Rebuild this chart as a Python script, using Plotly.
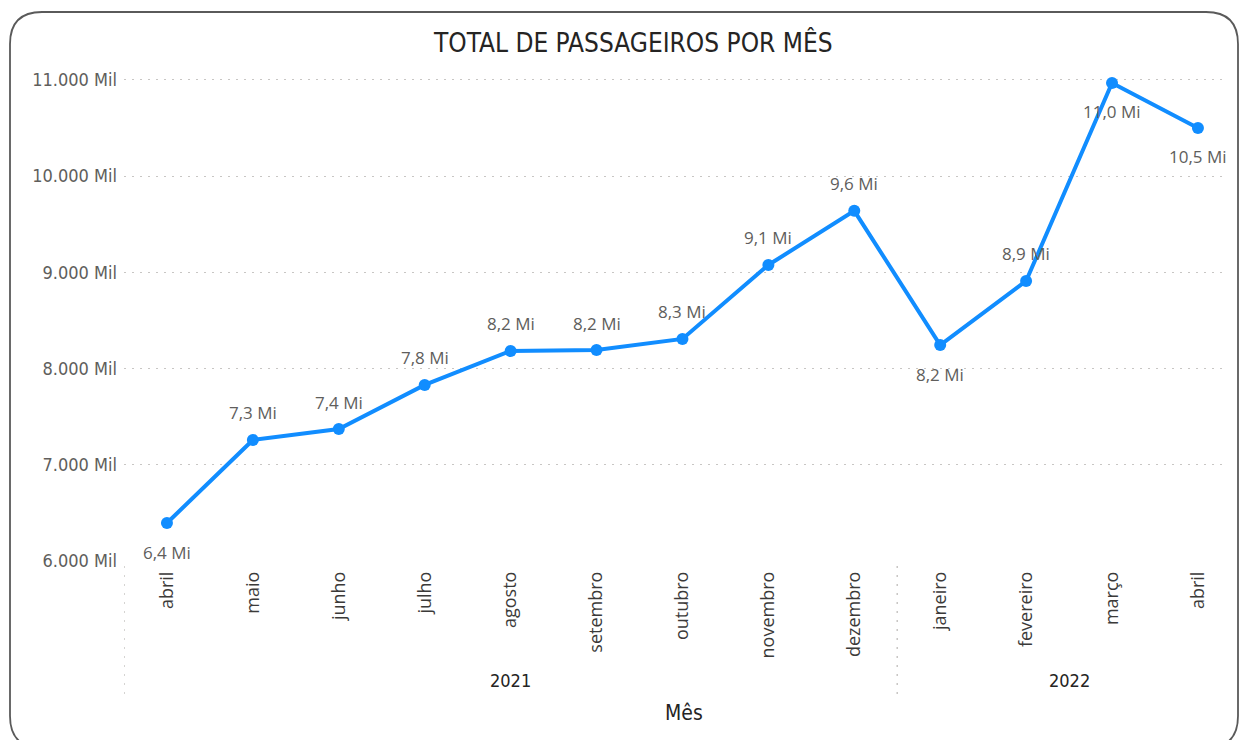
import plotly.graph_objects as go

# ---- data ----
months = ["abril", "maio", "junho", "julho", "agosto", "setembro", "outubro",
          "novembro", "dezembro", "janeiro", "fevereiro", "março", "abril"]
years = ["2021"] * 9 + ["2022"] * 4
passageiros_mil = [6395, 7258, 7372, 7830, 8183, 8193, 8308, 9077, 9640,
                   8245, 8911, 10969, 10501]
label_below = [True, False, False, False, False, False, False, False, False,
               True, False, True, True]
y_ticks = [6000, 7000, 8000, 9000, 10000, 11000]
y_tick_text = [f"{v:,}".replace(",", ".") + " Mil" for v in y_ticks]

W, H = 1242, 740
def px(x):
    return x / W
def py(y):
    return 1 - y / H

idx = list(range(len(months)))
COND = "DejaVu Sans Condensed, Liberation Sans Narrow, sans-serif"

fig = go.Figure()
fig.add_trace(go.Scatter(
    x=idx, y=passageiros_mil, mode="lines+markers",
    line=dict(color="#118DFF", width=4),
    marker=dict(color="#118DFF", size=12),
    hoverinfo="skip", showlegend=False,
))

annotations = []
for i, (v, below) in enumerate(zip(passageiros_mil, label_below)):
    txt = f"{v/1000:.1f}".replace(".", ",") + " Mi"
    annotations.append(dict(
        x=i, y=v, xref="x", yref="y", text=txt, showarrow=False,
        yshift=-29 if below else 27,
        font=dict(family="Open Sans", size=17, color="#605E5C"),
    ))

# year group labels
for yr in sorted(set(years)):
    members = [i for i, y in enumerate(years) if y == yr]
    annotations.append(dict(
        x=sum(members) / len(members), y=py(680), xref="x", yref="paper",
        text=yr, showarrow=False, yanchor="middle",
        font=dict(family=COND, size=18, color="#252423"),
    ))

# axis title
annotations.append(dict(
    x=px(684), y=py(713), xref="paper", yref="paper", text="Mês",
    showarrow=False, yanchor="middle",
    font=dict(family=COND, size=21, color="#252423"),
))
# chart title
annotations.append(dict(
    x=px(633), y=py(43), xref="paper", yref="paper",
    text="TOTAL DE PASSAGEIROS POR MÊS", showarrow=False, yanchor="middle",
    font=dict(family=COND, size=26, color="#252423"),
))

shapes = []
# group separators (dotted vertical)
bounds = [0]
for i in range(1, len(years)):
    if years[i] != years[i - 1]:
        bounds.append(i)
for b in bounds:
    shapes.append(dict(
        type="line", xref="x", yref="paper", x0=b - 0.5, x1=b - 0.5,
        y0=py(566), y1=py(696),
        line=dict(color="#C8C6C4", width=1.5, dash="2px,7px"),
    ))

# rounded card border
x0, x1, y0, y1 = px(10), px(1238), py(12), py(748)
rx, ry = 32 / W, 32 / H
path = (f"M {x0+rx},{y0} L {x1-rx},{y0} Q {x1},{y0} {x1},{y0-ry} "
        f"L {x1},{y1+ry} Q {x1},{y1} {x1-rx},{y1} L {x0+rx},{y1} "
        f"Q {x0},{y1} {x0},{y1+ry} L {x0},{y0-ry} Q {x0},{y0} {x0+rx},{y0} Z")
shapes.append(dict(type="path", xref="paper", yref="paper", path=path,
                   line=dict(color="#5A5A5A", width=1.8), layer="below"))

fig.update_layout(
    width=W, height=H,
    margin=dict(l=0, r=0, t=0, b=0),
    paper_bgcolor="white", plot_bgcolor="white",
    template="none",
    annotations=annotations,
    shapes=shapes,
    xaxis=dict(
        domain=[px(124), px(1228)], range=[-0.5, 12.35],
        tickmode="array", tickvals=idx, ticktext=months, tickangle=-90,
        showgrid=False, zeroline=False, showline=False, ticks="",
        ticklabelstandoff=6,
        tickfont=dict(family="Open Sans", size=18, color="#3B3A39"),
        automargin=False,
    ),
    yaxis=dict(
        domain=[py(561), py(63.6)], range=[6000, 11170],
        tickmode="array", tickvals=y_ticks, ticktext=y_tick_text,
        showgrid=True, gridcolor="#C8C6C4", gridwidth=1.2, griddash="2px,6px",
        zeroline=False, showline=False, ticks="",
        ticklabelstandoff=6,
        tickfont=dict(family=COND, size=18, color="#605E5C"),
        automargin=False,
    ),
)

fig.write_html("out.html", config={"displayModeBar": False},
               post_script="document.body.style.margin='0';")
